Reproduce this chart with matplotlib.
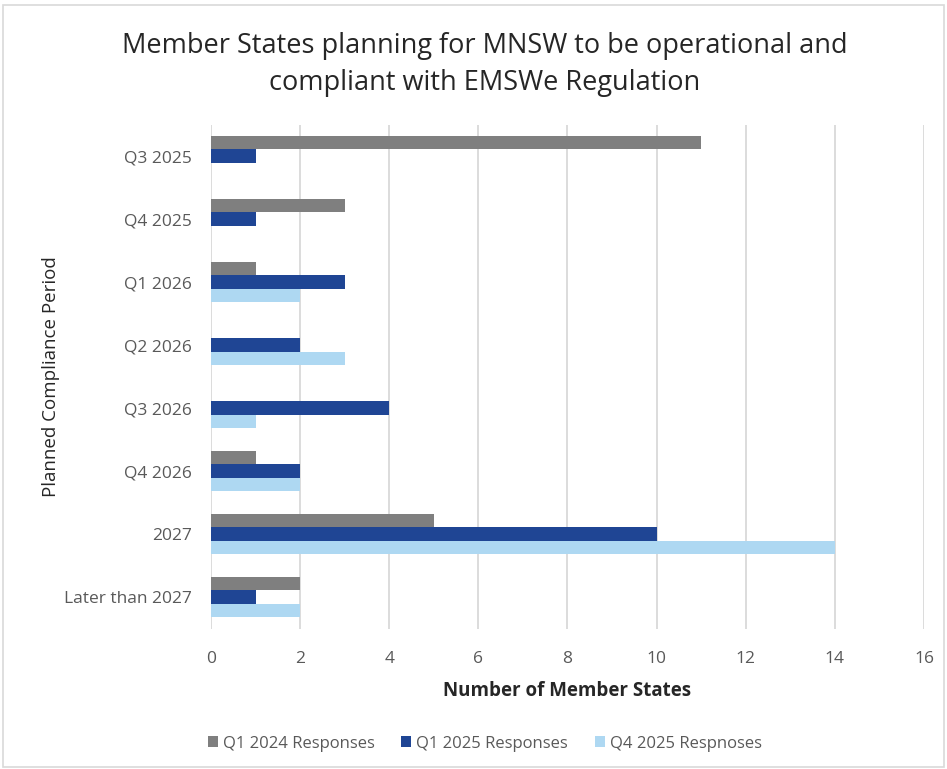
import matplotlib
matplotlib.use("Agg")
import matplotlib.pyplot as plt
import numpy as np
from matplotlib.patches import Rectangle

categories = ["Q3 2025", "Q4 2025", "Q1 2026", "Q2 2026", "Q3 2026", "Q4 2026", "2027", "Later than 2027"]
series_names = ["Q1 2024 Responses", "Q1 2025 Responses", "Q4 2025 Respnoses"]
q1_2024 = [11, 3, 1, 0, 0, 1, 5, 2]
q1_2025 = [1, 1, 3, 2, 4, 2, 10, 1]
q4_2025 = [0, 0, 2, 3, 1, 2, 14, 2]
colors = ["#7F7F7F", "#1F4594", "#AED8F2"]
xticks = [0, 2, 4, 6, 8, 10, 12, 14, 16]

plt.rcParams['font.family'] = ['Open Sans', 'DejaVu Sans']

fig = plt.figure(figsize=(9.47, 7.69), dpi=100)
ax = fig.add_axes([0.2228, 0.1827, 0.7529, 0.6553])

y = np.arange(len(categories))
h = 0.212
for k, (vals, c, name) in enumerate(zip([q1_2024, q1_2025, q4_2025], colors, series_names)):
    ax.barh(y + (k - 1) * h, vals, height=h, color=c, label=name, zorder=3)

ax.set_ylim(len(categories) - 0.5, -0.5)
ax.set_xlim(0, 16)
ax.set_xticks(xticks)
ax.set_xticklabels([str(t) for t in xticks])
ax.set_yticks(y)
ax.set_yticklabels(categories)
ax.grid(axis='x', color='#D9D9D9', linewidth=1.3, zorder=0)
ax.set_axisbelow(True)
for s in ax.spines.values():
    s.set_visible(False)
ax.tick_params(axis='both', length=0, colors='#595959', labelsize=12.5)
ax.tick_params(axis='y', pad=14)
ax.tick_params(axis='x', pad=16)
for lab in ax.get_xticklabels() + ax.get_yticklabels():
    lab.set_color('#595959')

ax.set_xlabel("Number of Member States", fontsize=13.5, fontweight='bold', color='#262626', labelpad=10)
ax.set_ylabel("Planned Compliance Period", fontsize=13.5, color='#262626', labelpad=3)

fig.text(0.512, 0.916, "Member States planning for MNSW to be operational and\ncompliant with EMSWe Regulation",
         ha='center', va='center', fontsize=19.5, color='#262626', linespacing=1.42)

leg = fig.legend(loc='center', bbox_to_anchor=(0.512, 0.033), ncol=3, frameon=False,
                 fontsize=12, handlelength=0.6, handleheight=0.6, handletextpad=0.3, columnspacing=1.6,
                 labelcolor='#595959')

fig.patches.append(Rectangle((0.003, 0.003), 0.994, 0.99, transform=fig.transFigure,
                             fill=False, edgecolor='#D9D9D9', linewidth=1.2))

fig.savefig("out.png", dpi=100)
